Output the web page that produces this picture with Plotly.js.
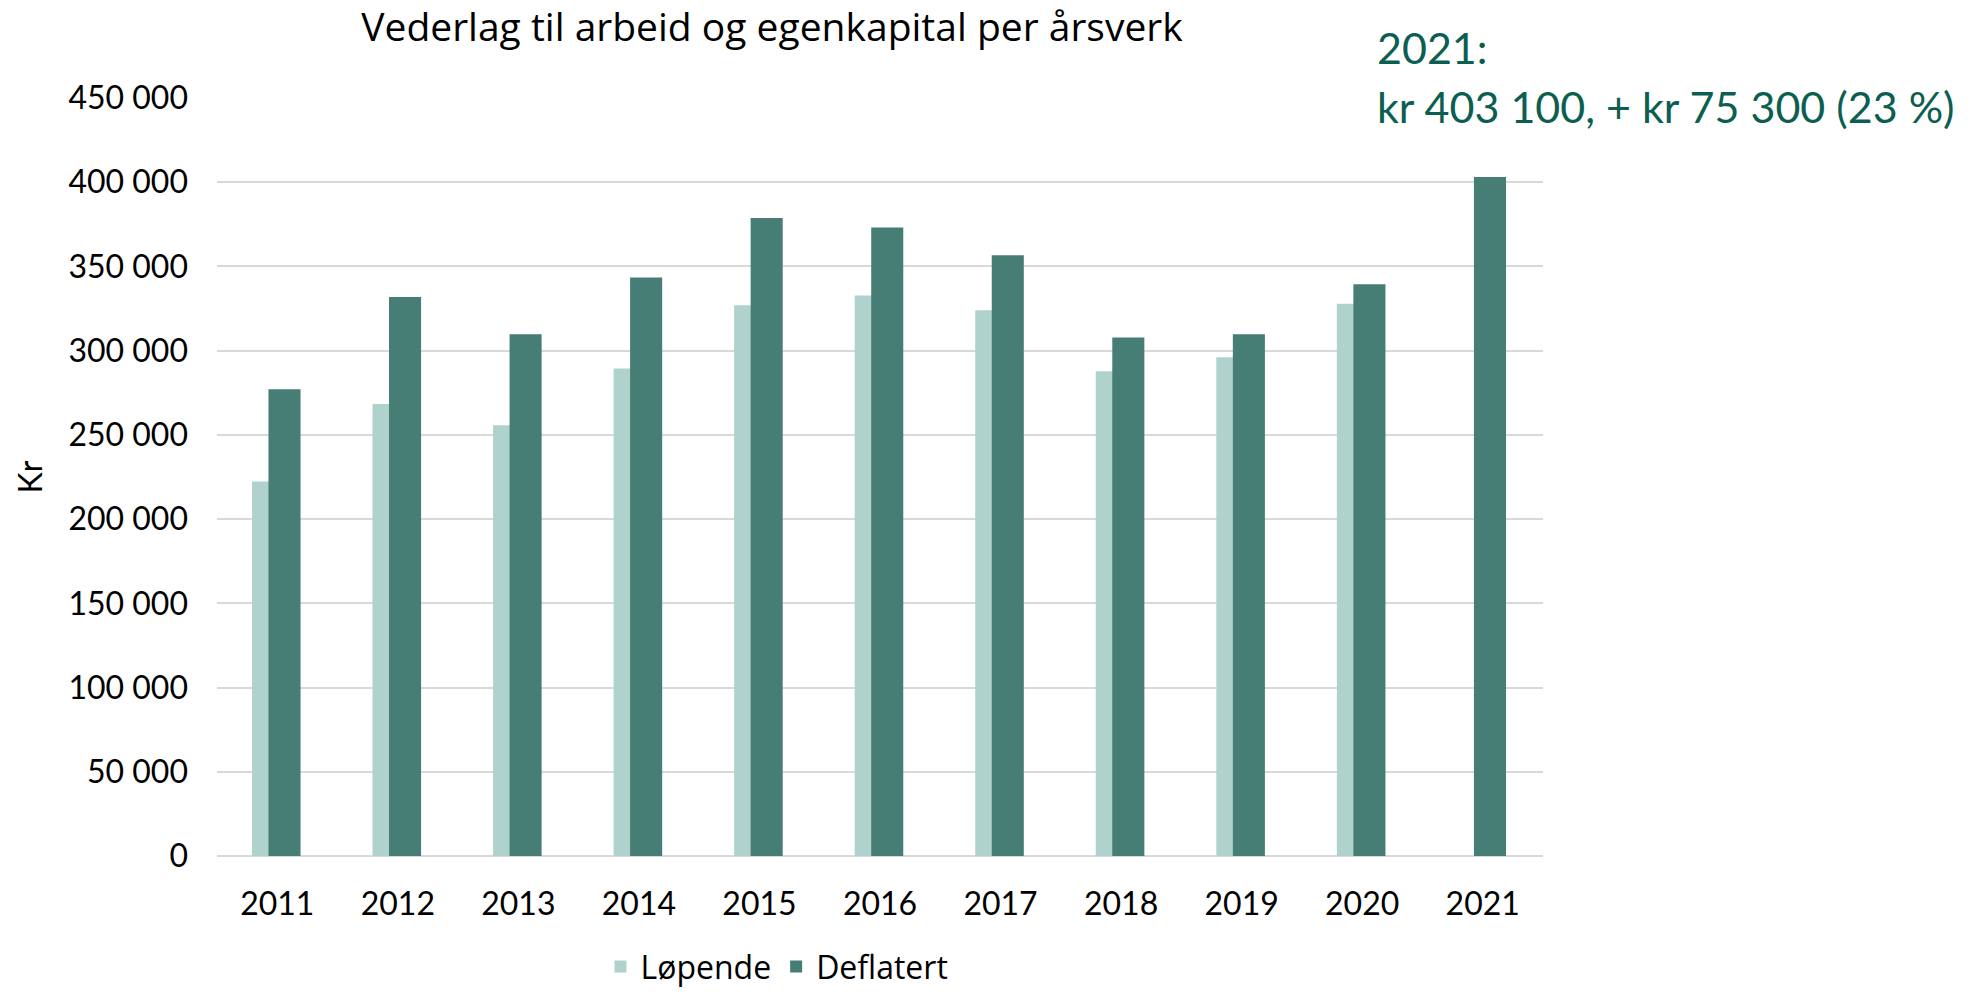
<!DOCTYPE html>
<html>
<head>
<meta charset="utf-8">
<script src="https://cdn.plot.ly/plotly-3.0.1.min.js"></script>
<style>html,body{margin:0;padding:0;background:#fff;}#chart{width:1981px;height:994px;}</style>
</head>
<body>
<div id="chart"></div>
<script>
var years = ['2011','2012','2013','2014','2015','2016','2017','2018','2019','2020','2021'];
var lopende = [222300, 268400, 255700, 289400, 327000, 332700, 324000, 287800, 296100, 327800, null];
var deflatert = [277100, 331800, 309800, 343400, 378700, 373100, 356700, 307800, 309800, 339500, 403100];
var yTickVals = [0, 50000, 100000, 150000, 200000, 250000, 300000, 350000, 400000, 450000];
var yTickText = ['0', '50 000', '100 000', '150 000', '200 000', '250 000', '300 000', '350 000', '400 000', '450 000'];
var titleText = 'Vederlag til arbeid og egenkapital per årsverk';
var noteLine1 = '2021:';
var noteLine2 = 'kr 403 100, + kr 75 300 (23 %)';

var FONT = 'Lato, "Open Sans", sans-serif';
var FONT2 = '"Open Sans", Lato, sans-serif';
var NOTE_COLOR = '#0B5E50';
var traces = [
  {type:'bar', name:'Løpende', x:years, y:lopende, width:0.266, offset:-0.21,
   marker:{color:'#AFD3CC'}},
  {type:'bar', name:'Deflatert', x:years, y:deflatert, width:0.266, offset:-0.073,
   marker:{color:'#467D74'}}
];
var layout = {
  width:1981, height:994,
  margin:{l:217, r:438, t:98, b:138, autoexpand:false},
  paper_bgcolor:'#fff', plot_bgcolor:'#fff',
  barmode:'overlay',
  font:{family:FONT, color:'#000', size:30},
  title:{text:titleText, xref:'container', yref:'container', x:772/1981, y:0.972,
    xanchor:'center', yanchor:'middle', font:{family:FONT2, size:39, color:'#000'}},
  xaxis:{type:'category', showgrid:false, zeroline:false, showline:false,
    ticks:'', ticklabelstandoff:26, tickfont:{size:32, family:FONT}},
  yaxis:{range:[0,450000], tickvals:yTickVals, ticktext:yTickText, showgrid:true,
    gridcolor:'#D9D9D9', gridwidth:2, zeroline:true, zerolinecolor:'#D9D9D9', zerolinewidth:2,
    showline:false, ticks:'', ticklabelstandoff:28, tickfont:{size:32, family:FONT},
    title:{text:'Kr', standoff:16, font:{size:32, family:FONT}}},
  showlegend:true,
  legend:{orientation:'h', x:0.4223, xanchor:'center', y:-0.146, yanchor:'middle',
    font:{size:32, family:FONT2}, traceorder:'normal'},
  annotations:[
    {text:noteLine1, xref:'paper', yref:'paper', x:0.873, y:1.0664, xanchor:'left', yanchor:'middle',
     align:'left', showarrow:false, font:{size:43, family:FONT, color:NOTE_COLOR}},
    {text:noteLine2, xref:'paper', yref:'paper', x:0.873, y:0.9885, xanchor:'left', yanchor:'middle',
     align:'left', showarrow:false, font:{size:43, family:FONT, color:NOTE_COLOR}}
  ]
};
Plotly.newPlot('chart', traces, layout, {displayModeBar:false, staticPlot:true});
</script>
</body>
</html>
